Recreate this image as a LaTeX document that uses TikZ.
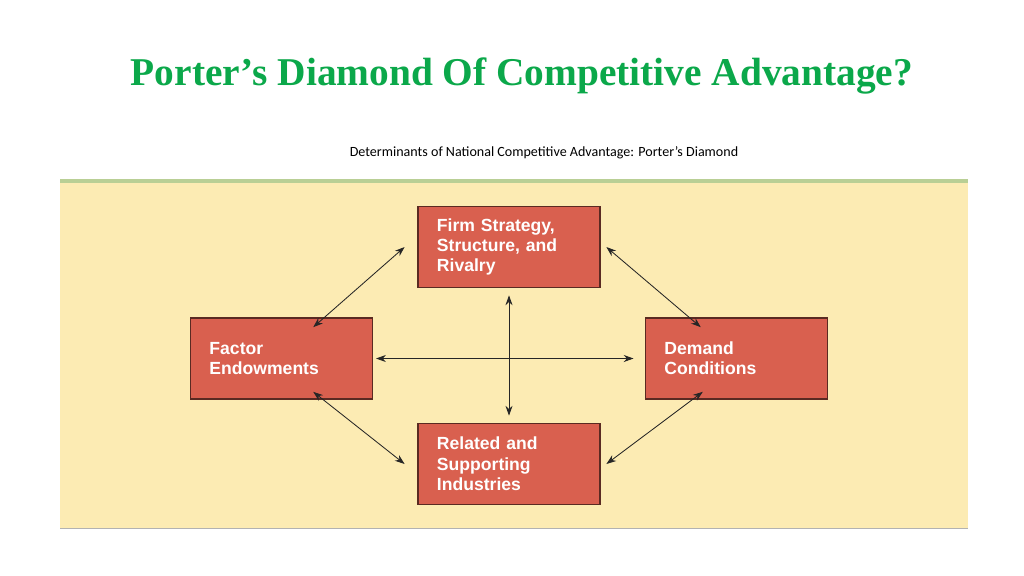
\documentclass[tikz,border=0pt]{standalone}
\usepackage{fontspec}
\setmainfont{Liberation Serif}
\setsansfont{Liberation Sans}
\newfontfamily\calib{Carlito}
\usetikzlibrary{arrows.meta}
\definecolor{titlegreen}{HTML}{0BA84A}
\definecolor{panel}{HTML}{FCEBB3}
\definecolor{panelline}{HTML}{B9CF95}
\definecolor{boxred}{HTML}{D9604F}
\definecolor{boxedge}{HTML}{5A2A22}
\begin{document}
\begin{tikzpicture}[x=0.025cm,y=-0.025cm,
  factor/.style={draw=boxedge, line width=1pt, fill=boxred, text=white,
    font=\sffamily\bfseries\fontsize{12.5}{14.5}\selectfont, align=left,
    minimum width=4.55cm, minimum height=2.03cm, text width=3.6cm},
  link/.style={{Stealth[length=7pt,width=5pt]}-{Stealth[length=7pt,width=5pt]}, line width=0.6pt, black!85}
]
\useasboundingbox (0,0) rectangle (1024,575);
\fill[white] (0,0) rectangle (1024,575);
% panel
\fill[panel] (60,180) rectangle (968,528);
\draw[panelline, line width=2.5pt] (60,181) -- (968,181);
\draw[black!30, line width=0.6pt] (60,528) -- (968,528);

% titles
\node[font=\bfseries\fontsize{28}{32}\selectfont, text=titlegreen] (title) at (522,76) {Porter’s Diamond Of Competitive Advantage?};
\node[font=\calib\fontsize{10}{12}\selectfont] (subtitle) at (544,153) {Determinants of National Competitive Advantage: Porter’s Diamond};

% factors
\node[factor] (firm)   at (509,247) {Firm Strategy,\\Structure, and\\Rivalry};
\node[factor] (factor) at (281.5,358.5) {Factor\\Endowments};
\node[factor] (demand) at (736.5,358.5) {Demand\\Conditions};
\node[factor] (related) at (509,464) {Related and\\Supporting\\Industries};

% links
\draw[link] ([xshift=-9pt]firm.west) -- ([shift={(-60,10)}]factor.north east);
\draw[link] ([xshift=4pt]firm.east) -- ([shift={(56,10)}]demand.north west);
\draw[link] ([shift={(-60,-8)}]factor.south east) -- ([xshift=-9pt]related.west);
\draw[link] ([shift={(58,-8)}]demand.south west) -- ([xshift=4pt]related.east);
\draw[link, shorten <=2pt, shorten >=8pt] (factor.east) -- (demand.west);
\draw[link, shorten <=5pt, shorten >=5pt] (firm.south) -- (related.north);
\end{tikzpicture}
\end{document}
